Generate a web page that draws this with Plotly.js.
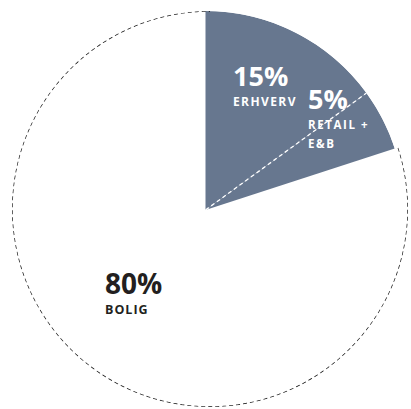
<!DOCTYPE html>
<html>
<head>
<meta charset="utf-8">
<script src="https://cdn.plot.ly/plotly-3.0.1.min.js"></script>
<style>html,body{margin:0;padding:0;background:#fff;}#chart{width:411px;height:409px;}</style>
</head>
<body>
<div id="chart"></div>
<script>
// ---- data ----
const categories = ['ERHVERV', 'RETAIL + E&B', 'BOLIG'];
const shares = [15, 5, 80];
const pctLabels = ['15%', '5%', '80%'];
const nameLines = [['ERHVERV'], ['RETAIL +', 'E&B'], ['BOLIG']];

// ---- styling ----
const wedgeColor = '#67778f';
const sliceColors = [wedgeColor, wedgeColor, 'rgba(0,0,0,0)'];
const textColors = ['#ffffff', '#ffffff', '#231f20'];

// slice geometry from the shares
const total = shares.reduce((a, b) => a + b, 0);
const starts = [], widths = [], mids = [];
let acc = 0;
shares.forEach(v => {
  const w = v / total * 360;
  starts.push(acc); widths.push(w); mids.push(acc + w / 2); acc += w;
});

// filled slices
const wedges = {
  type: 'barpolar', subplot: 'polar',
  theta: mids, width: widths, r: shares.map(() => 1),
  marker: {color: sliceColors, line: {width: 0}},
  hoverinfo: 'skip', showlegend: false
};

// dashed white divider between the two filled slices
const divider = {
  type: 'scatterpolar', subplot: 'polar', mode: 'lines',
  r: [0, 1], theta: [starts[1], starts[1]],
  line: {color: '#ffffff', width: 1.3, dash: '4px,3px'},
  hoverinfo: 'skip', showlegend: false
};

// dashed outline of the BOLIG slice
const arcTheta = [], arcR = [];
for (let t = starts[2]; t <= 360; t += 1) { arcTheta.push(t); arcR.push(1); }
const outline = {
  type: 'scatterpolar', subplot: 'polar2', mode: 'lines',
  r: arcR, theta: arcTheta,
  line: {color: '#111111', width: 1.4, dash: '4px,3px'},
  hoverinfo: 'skip', showlegend: false
};

const W = 411, H = 409;
const px = x => x / W, py = y => 1 - y / H;

function block(lines, x, yTop, color) {
  const text = lines.map(l => {
    const ls = l.spacing ? 'letter-spacing:' + l.spacing + 'px;' : '';
    return '<span style="font-size:' + l.size + 'px;' + ls + '">' + l.t + '</span>';
  }).join('<br>');
  return {
    xref: 'paper', yref: 'paper', x: px(x), y: py(yTop),
    xanchor: 'left', yanchor: 'top', align: 'left', showarrow: false,
    borderpad: 0, borderwidth: 0,
    text: text,
    font: {family: 'Open Sans, sans-serif', size: 15, color: color, weight: 700}
  };
}

const annotations = [
  block([{t: pctLabels[0], size: 27}, {t: nameLines[0][0], size: 12, spacing: 1.4}], 233, 57, textColors[0]),
  block([{t: pctLabels[1], size: 27}, {t: nameLines[1][0], size: 11.5, spacing: 1.6},
         {t: nameLines[1][1], size: 11.5, spacing: 1.6}], 308, 80, textColors[1]),
  block([{t: pctLabels[2], size: 28}, {t: nameLines[2][0], size: 12.5, spacing: 1}], 105, 264, textColors[2])
];

const hiddenPolar = (xd, yd) => ({
  domain: {x: xd, y: yd},
  bgcolor: 'rgba(0,0,0,0)',
  bargap: 0,
  radialaxis: {visible: false, range: [0, 1]},
  angularaxis: {visible: false, rotation: 90, direction: 'clockwise'}
});

const layout = {
  width: W, height: H,
  margin: {l: 0, r: 0, t: 0, b: 0},
  paper_bgcolor: '#ffffff',
  showlegend: false,
  polar: hiddenPolar([6.5 / W, 404.5 / W], [0, 398 / H]),
  polar2: hiddenPolar([12 / W, 408 / W], [2 / H, 398 / H]),
  annotations: annotations
};

Plotly.newPlot('chart', [wedges, divider, outline], layout, {staticPlot: true, displayModeBar: false});
</script>
</body>
</html>
